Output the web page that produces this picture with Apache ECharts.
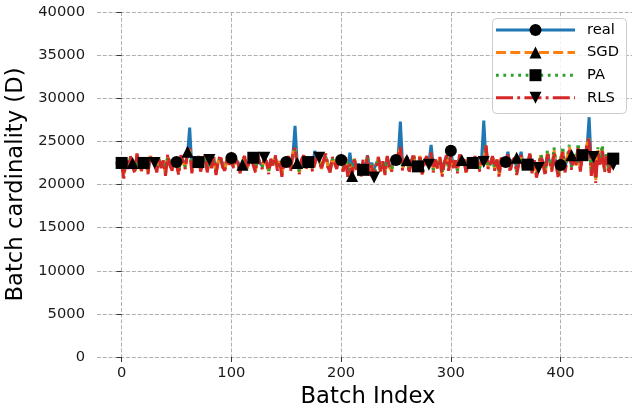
<!DOCTYPE html>
<html>
<head>
<meta charset="utf-8">
<script src="https://cdn.jsdelivr.net/npm/echarts@6/dist/echarts.min.js"></script>
<style>
  html, body { margin: 0; padding: 0; background: #fff; }
  #chart { width: 632px; height: 413px; }
</style>
</head>
<body>
<div id="chart"></div>
<script>
const BATCH_STEP = 2;
const BATCH_COUNT = 225; // batches 0..448
const batchIndex = Array.from({ length: BATCH_COUNT }, (_, i) => i * BATCH_STEP);

const xTicks = [0, 100, 200, 300, 400];
const yTicks = [0, 5000, 10000, 15000, 20000, 25000, 30000, 35000, 40000];

const seriesNames = ['real', 'SGD', 'PA', 'RLS'];

const realValues = [
  22500, 21900, 22600, 22200, 23000, 22400, 21800, 23100, 22300, 21900, 22600, 22700, 21700, 23000, 22900, 22400, 21900, 22800, 22300, 22700, 21600, 23200, 22500, 22000, 22900,
  22620, 21700, 23100, 22800, 22200, 23400, 26600, 21900, 22900, 22500, 22700, 22000, 22600, 23200, 22000, 22700, 22300, 23000, 21800, 22600, 23100, 22400, 22000, 22800, 22500,
  23080, 22300, 22800, 22600, 21800, 22500, 23000, 22100, 22700, 23000, 22800, 22000, 23200, 22500, 22200, 22800, 22700, 21800, 22800, 22400, 23100, 22100, 22700, 21800, 22500,
  22600, 23000, 22100, 23300, 26800, 22400, 21800, 22900, 23100, 22200, 22700, 22800, 22100, 23900, 23000, 22800, 22100, 22700, 23200, 22300, 21900, 22900, 22600, 22100, 22800,
  22850, 22100, 23000, 21800, 23700, 21700, 22800, 22000, 22400, 21600, 22500, 22100, 23400, 21900, 22500, 21800, 22400, 23000, 22000, 22600, 21800, 23000, 22300, 22000, 22800,
  22850, 23200, 27300, 22300, 22800, 22850, 22000, 22700, 23300, 22100, 22400, 23100, 21900, 22700, 23000, 22500, 24600, 22100, 22800, 22300, 22900, 21900, 22600, 23100, 22200,
  23900, 22300, 22800, 22000, 23200, 22400, 22900, 21900, 22900, 22600, 22300, 23000, 22300, 22000, 22800, 27400, 22600, 22300, 22500, 23100, 22000, 22800, 21800, 22900, 22400,
  22600, 23800, 22000, 22700, 23000, 21900, 22600, 23800, 22100, 22800, 22400, 23500, 22000, 22800, 21700, 22200, 23300, 22600, 21900, 23400, 22700, 22100, 23600, 22400, 21800,
  22270, 23600, 22100, 22900, 23800, 22100, 23200, 22400, 23900, 22000, 23300, 22900, 24000, 27800, 22000, 23100, 21600, 23500, 22500, 23700, 22000, 23200, 21900, 22700, 22500
];

const sgdValues = [
  22400, 21000, 22800, 22000, 23200, 22500, 21500, 23500, 22100, 21600, 22800, 22500, 21400, 23300, 22700, 22400, 21600, 23000, 22000, 22700, 21200, 23400, 22300, 21800, 23100,
  22400, 21300, 23300, 22600, 21900, 23800, 24100, 21500, 22900, 22200, 23000, 21700, 22500, 23400, 21600, 22800, 22000, 23100, 21300, 22700, 23300, 22100, 21700, 23000, 22400,
  22700, 22000, 23000, 22400, 21500, 22300, 23200, 21800, 22500, 23000, 22600, 21600, 23400, 22300, 21900, 23000, 22600, 21400, 22900, 22200, 23300, 21800, 22700, 21100, 22500,
  22200, 23200, 21700, 23600, 24200, 22500, 21400, 22800, 23300, 21900, 22600, 23000, 21700, 22400, 23200, 23000, 21800, 22800, 23500, 22000, 21600, 23100, 22500, 21900, 23000,
  22600, 21700, 23200, 21100, 22400, 21000, 23000, 21800, 22200, 21000, 22400, 21500, 23300, 21200, 22300, 21000, 22100, 23100, 21500, 22700, 21300, 23200, 22000, 21600, 22900,
  22400, 23400, 24200, 21800, 22800, 22850, 21500, 22600, 23500, 21600, 22200, 23300, 21200, 22700, 23200, 22300, 23600, 21600, 22900, 21900, 23100, 21100, 22500, 23300, 21700,
  23200, 22000, 22800, 21500, 23400, 22850, 22900, 21400, 23000, 22400, 22100, 23200, 22100, 21700, 23000, 22600, 24500, 21900, 22400, 23200, 21700, 22900, 21100, 23100, 22300,
  22200, 23400, 21600, 22700, 23100, 23100, 22500, 23300, 21800, 22900, 22200, 23600, 21500, 22800, 21000, 22000, 23400, 22500, 21200, 23700, 22700, 21700, 24000, 22300, 20900,
  22800, 24100, 21600, 23000, 24300, 23400, 23400, 22200, 24500, 21700, 23500, 22900, 24600, 25300, 21200, 23300, 20500, 24000, 22400, 24300, 21600, 23400, 21400, 22800, 22600
];

const paValues = [
  22500, 21200, 22700, 22100, 23100, 22300, 21600, 23300, 22200, 21700, 22500, 22600, 21500, 23200, 22800, 22300, 21700, 22900, 22100, 22600, 21300, 23300, 22400, 21900, 23000,
  22500, 21400, 23200, 22700, 22000, 23500, 24000, 21700, 22800, 22300, 22600, 21800, 22500, 23300, 21700, 22700, 22100, 23000, 21500, 22600, 23200, 22200, 21800, 22900, 22400,
  22600, 22100, 22900, 22500, 21600, 22700, 23100, 21900, 22600, 22900, 23100, 21700, 23300, 22400, 22000, 22900, 22700, 21500, 22800, 22300, 23200, 21900, 22600, 21300, 22500,
  22300, 23100, 21800, 23500, 24100, 22200, 21500, 22800, 23200, 22000, 22600, 22900, 21800, 22500, 23100, 22900, 21900, 22700, 23400, 22100, 21700, 23000, 22500, 22000, 22900,
  22600, 21800, 23100, 21300, 22500, 21400, 22900, 21900, 22200, 21200, 21700, 21600, 23200, 21300, 22300, 21200, 22200, 23000, 21600, 22600, 21400, 23100, 22100, 21700, 22900,
  22400, 23300, 24100, 21900, 22700, 23000, 21600, 22600, 23400, 21800, 22100, 23200, 21300, 22600, 23100, 22400, 23500, 21700, 22800, 22000, 23000, 21300, 22500, 23200, 21900,
  23100, 22100, 22700, 21600, 23300, 22200, 22800, 21500, 22900, 22400, 22500, 23100, 22100, 21800, 22900, 22600, 24400, 22000, 22400, 23100, 21800, 22800, 21300, 23000, 22300,
  22300, 23300, 21700, 22700, 23000, 21400, 22500, 23200, 21900, 22800, 22300, 23700, 21600, 22800, 21300, 22000, 23500, 22600, 21400, 24000, 22800, 21800, 24300, 22400, 21100,
  22900, 24400, 21700, 23100, 24600, 21900, 23500, 22300, 24800, 21800, 23400, 23000, 24700, 25200, 21400, 23400, 20800, 24300, 22500, 24600, 21700, 23500, 21600, 23000, 23000
];

const rlsValues = [
  22400, 20700, 22900, 21800, 23300, 22100, 21300, 23600, 22000, 21500, 23000, 22400, 21200, 23400, 22700, 22500, 21400, 23100, 21900, 22800, 21000, 23500, 22200, 21600, 23200,
  22300, 21100, 23400, 22600, 21800, 23700, 24200, 21300, 22900, 22100, 23300, 21500, 22600, 23500, 21400, 22850, 21900, 23200, 21100, 22700, 23400, 22000, 21600, 23100, 22300,
  22700, 21900, 23000, 22400, 21300, 22800, 23300, 21700, 22500, 23100, 22200, 21400, 23500, 22300, 21800, 23100, 22600, 21200, 23000, 22100, 23400, 21600, 22700, 20900, 22500,
  22200, 23300, 21500, 23700, 24300, 22100, 21200, 22900, 23400, 21800, 22600, 23000, 21500, 22400, 23300, 23100, 21700, 22800, 23600, 22000, 21400, 23200, 22500, 21800, 23000,
  22600, 21500, 23300, 20900, 22400, 21000, 23100, 21700, 22200, 20800, 22900, 21300, 23400, 21000, 22300, 20800, 22100, 23200, 21400, 22700, 21100, 23300, 22000, 21500, 23000,
  22400, 23500, 24300, 21600, 22800, 23200, 21300, 22600, 23600, 21500, 22200, 23400, 21000, 22700, 23300, 22300, 23700, 21400, 22900, 21800, 23200, 20900, 22500, 23400, 21600,
  23300, 21900, 22800, 21300, 23500, 22100, 22900, 21200, 23100, 22400, 21700, 23300, 22000, 21500, 23000, 22600, 24600, 21800, 22400, 23300, 21600, 22900, 20900, 23100, 22300,
  22200, 23500, 21400, 22700, 23100, 21100, 22500, 23400, 21700, 22900, 22100, 23600, 21300, 22800, 20800, 21900, 23300, 22400, 21000, 23500, 22600, 21500, 23700, 22200, 20700,
  22700, 23800, 21400, 22900, 24000, 21700, 23300, 22100, 24200, 21500, 23600, 22800, 24600, 25400, 21000, 23200, 20200, 23800, 22300, 24100, 21400, 23300, 21200, 22600, 22300
];

// batches at which each series carries a marker
const realMarks = [0, 50, 100, 150, 200, 250, 300, 350, 400];
const sgdMarks  = [10, 60, 110, 160, 210, 260, 310, 360, 410];
const paMarks   = [0, 20, 70, 120, 170, 220, 270, 320, 370, 420, 448];
const rlsMarks  = [30, 80, 130, 180, 230, 280, 330, 380, 430, 448];

// ---- styles ----
const FONT = 'DejaVu Sans';
const LW = 3;
const MSIZE = 12;
const styles = [
  { color: '#1f77b4', dash: 'solid', symbol: 'circle', rotate: 0, marks: realMarks, values: realValues },
  { color: '#ff7f0e', dash: [10, 4.3], symbol: 'triangle', rotate: 0, marks: sgdMarks, values: sgdValues },
  { color: '#2ca02c', dash: [2.8, 4.6], symbol: 'rect', rotate: 0, marks: paMarks, values: paValues },
  { color: '#d62728', dash: [17, 4.3, 2.8, 4.3], symbol: 'triangle', rotate: 180, marks: rlsMarks, values: rlsValues }
];

const series = [];
styles.forEach((s, k) => {
  series.push({
    name: seriesNames[k],
    type: 'line',
    data: batchIndex.map((x, i) => [x, s.values[i]]),
    showSymbol: false,
    symbol: 'none',
    lineStyle: { color: s.color, width: LW, type: s.dash },
    emphasis: { disabled: true },
    silent: true,
    animation: false,
    z: 2 + k
  });
});
styles.forEach((s, k) => {
  series.push({
    name: seriesNames[k] + ' markers',
    type: 'scatter',
    data: batchIndex.map((x, i) => [x, s.values[i]]).filter(d => s.marks.indexOf(d[0]) >= 0),
    symbol: s.symbol,
    symbolRotate: s.rotate,
    symbolSize: MSIZE,
    itemStyle: { color: '#000', borderWidth: 0, opacity: 1 },
    emphasis: { disabled: true },
    silent: true,
    animation: false,
    z: 10 + k
  });
});

// ---- legend drawn as graphic (line + marker + text) ----
const legendGraphics = [];
const LX = 492, LY = 18, LW_BOX = 134, LH_BOX = 95;
legendGraphics.push({
  type: 'rect', left: LX, top: LY, shape: { width: LW_BOX, height: LH_BOX, r: 4 },
  style: { fill: 'rgba(255,255,255,0.85)', stroke: '#cccccc', lineWidth: 1 }, z: 100
});
styles.forEach((s, k) => {
  const cy = 30 + k * 22.6;
  const x0 = 496, x1 = 575, mx = 535.5;
  legendGraphics.push({
    type: 'line', shape: { x1: x0, y1: cy, x2: x1, y2: cy },
    style: { stroke: s.color, lineWidth: LW, lineDash: s.dash === 'solid' ? null : s.dash }, z: 101
  });
  const h = MSIZE / 2;
  let marker;
  if (s.symbol === 'circle') {
    marker = { type: 'circle', shape: { cx: mx, cy: cy, r: h } };
  } else if (s.symbol === 'rect') {
    marker = { type: 'rect', shape: { x: mx - h, y: cy - h, width: MSIZE, height: MSIZE } };
  } else if (s.rotate === 0) {
    marker = { type: 'polygon', shape: { points: [[mx, cy - h], [mx - h, cy + h], [mx + h, cy + h]] } };
  } else {
    marker = { type: 'polygon', shape: { points: [[mx, cy + h], [mx - h, cy - h], [mx + h, cy - h]] } };
  }
  marker.style = { fill: '#000' };
  marker.z = 102;
  legendGraphics.push(marker);
  legendGraphics.push({
    type: 'text', x: 587, y: cy,
    style: { text: seriesNames[k], fill: '#000', font: '14.7px "DejaVu Sans"', verticalAlign: 'middle', align: 'left' },
    z: 102
  });
});

const gridLine = { show: true, lineStyle: { color: '#b0b0b0', width: 1, type: [4, 1.8] } };

const option = {
  animation: false,
  backgroundColor: '#ffffff',
  textStyle: { fontFamily: FONT },
  grid: { left: 97, top: 12, width: 542, height: 345, containLabel: false, outerBoundsMode: 'none' },
  xAxis: {
    type: 'value',
    min: -22.45,
    max: 471.45,
    name: 'Batch Index',
    nameLocation: 'middle',
    nameGap: 29,
    nameTextStyle: { fontSize: 22.7, color: '#000', fontFamily: FONT },
    axisLine: { show: false },
    axisTick: { show: true, length: 5, customValues: xTicks, lineStyle: { color: '#333', width: 1 } },
    axisLabel: { customValues: xTicks, fontSize: 14.7, color: '#1a1a1a', margin: 9, fontFamily: FONT, formatter: v => String(v) },
    splitLine: gridLine
  },
  yAxis: {
    type: 'value',
    min: yTicks[0],
    max: yTicks[yTicks.length - 1],
    interval: 5000,
    name: 'Batch cardinality (D)',
    nameLocation: 'middle',
    nameGap: 66,
    nameTextStyle: { fontSize: 22.7, color: '#000', fontFamily: FONT },
    axisLine: { show: false },
    axisTick: { show: true, length: 5, lineStyle: { color: '#333', width: 1 } },
    axisLabel: { fontSize: 14.7, color: '#1a1a1a', margin: 12, fontFamily: FONT, formatter: v => String(v) },
    splitLine: gridLine
  },
  series: series,
  graphic: legendGraphics
};

const chart = echarts.init(document.getElementById('chart'), null, { renderer: 'canvas' });
chart.setOption(option);
</script>
</body>
</html>
